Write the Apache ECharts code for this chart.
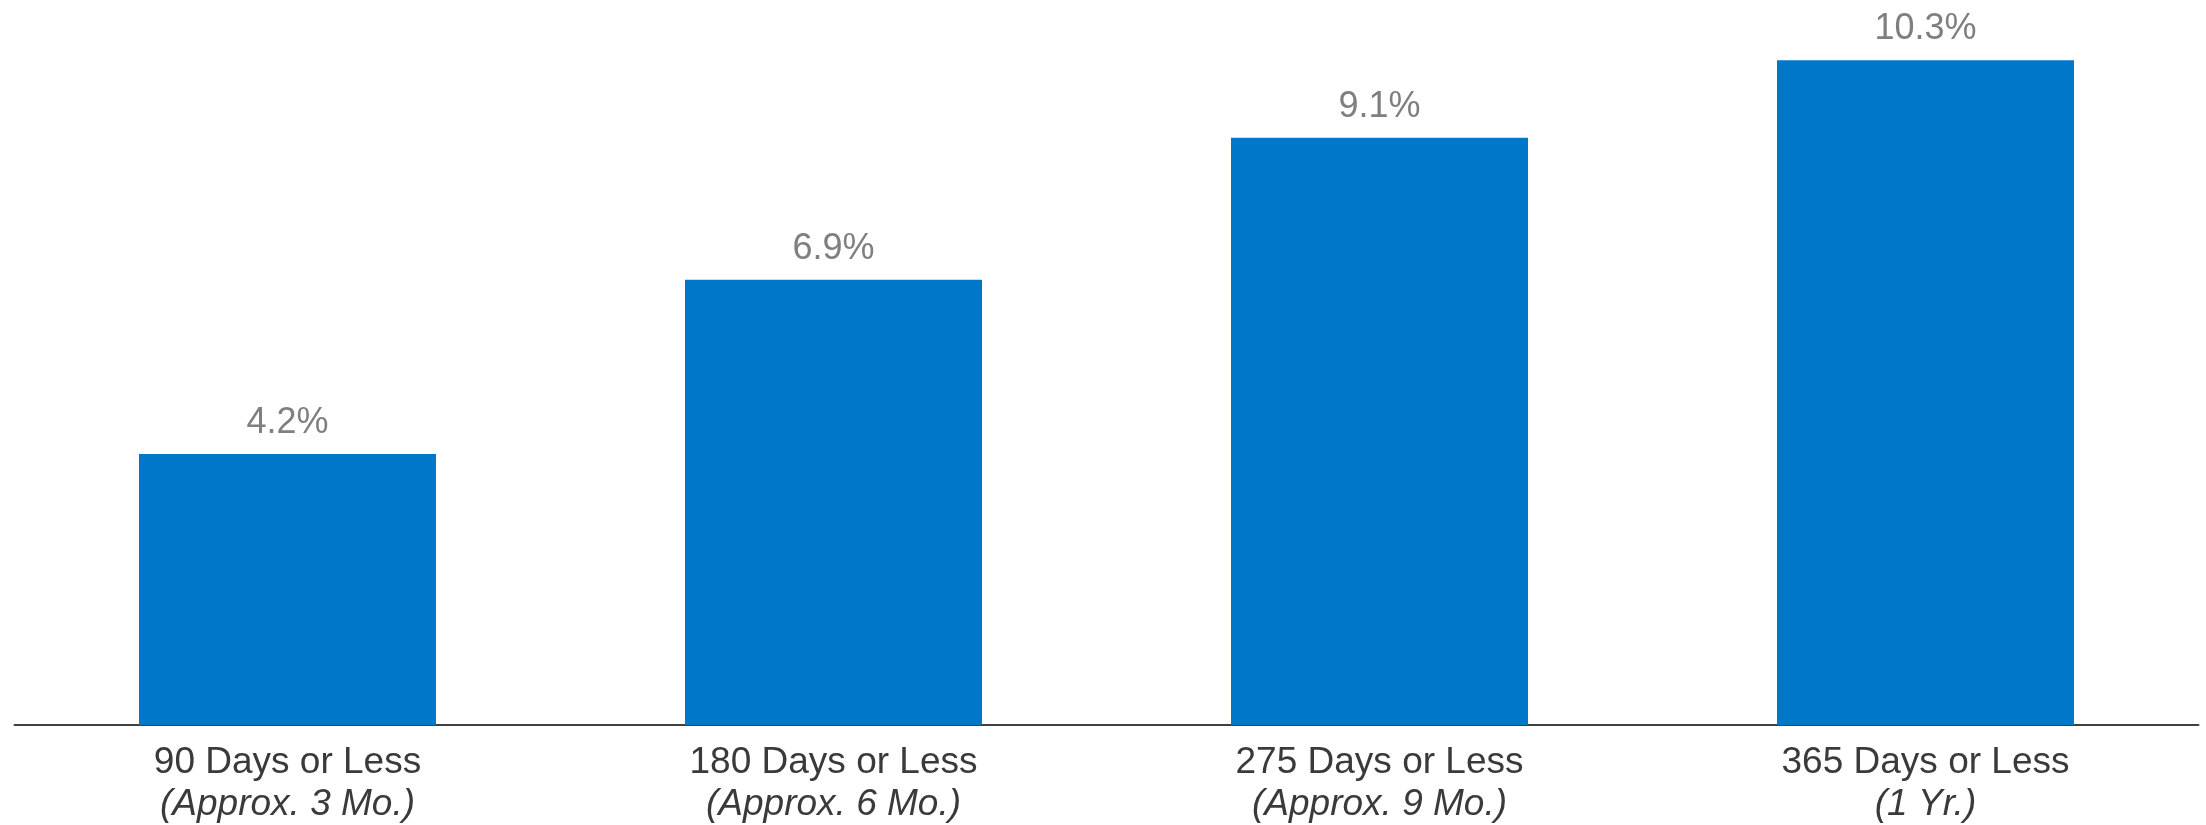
<!DOCTYPE html>
<html>
<head>
<meta charset="utf-8">
<script src="https://cdn.jsdelivr.net/npm/echarts@6/dist/echarts.min.js"></script>
<style>
html,body{margin:0;padding:0;background:#fff;}
#chart{width:2206px;height:825px;}
</style>
</head>
<body>
<div id="chart"></div>
<script>
const categories = ["90 Days or Less", "180 Days or Less", "275 Days or Less", "365 Days or Less"];
const subLabels = ["(Approx. 3 Mo.)", "(Approx. 6 Mo.)", "(Approx. 9 Mo.)", "(1 Yr.)"];
const values = [4.2, 6.9, 9.1, 10.3];

const chart = echarts.init(document.getElementById('chart'), null, {renderer: 'canvas'});
const FONT = '"Liberation Sans", Arial, sans-serif';
chart.setOption({
  animation: false,
  backgroundColor: '#ffffff',
  grid: {left: 14.5, right: 7.5, top: 15, bottom: 100, containLabel: false},
  xAxis: {
    type: 'category',
    data: categories,
    axisLine: {show: true, lineStyle: {color: '#404040', width: 2}},
    axisTick: {show: false},
    splitLine: {show: false},
    axisLabel: {
      interval: 0,
      margin: 16.5,
      formatter: function (v, i) {
        return '{a|' + v + '}\n{b|' + subLabels[i] + '}';
      },
      rich: {
        a: {fontFamily: FONT, fontSize: 37, color: '#3a3a3a', lineHeight: 42},
        b: {fontFamily: FONT, fontSize: 37, fontStyle: 'italic', color: '#3a3a3a', lineHeight: 42}
      }
    }
  },
  yAxis: {
    type: 'value',
    min: 0,
    max: 11,
    show: false,
    splitLine: {show: false}
  },
  series: [{
    type: 'bar',
    data: values,
    barCategoryGap: '45.6%',
    itemStyle: {color: '#0077C8'},
    label: {
      show: true,
      position: 'top',
      distance: 13,
      fontFamily: FONT,
      fontSize: 36,
      color: '#7f7f7f',
      formatter: function (p) { return p.value.toFixed(1) + '%'; }
    }
  }]
});
</script>
</body>
</html>
